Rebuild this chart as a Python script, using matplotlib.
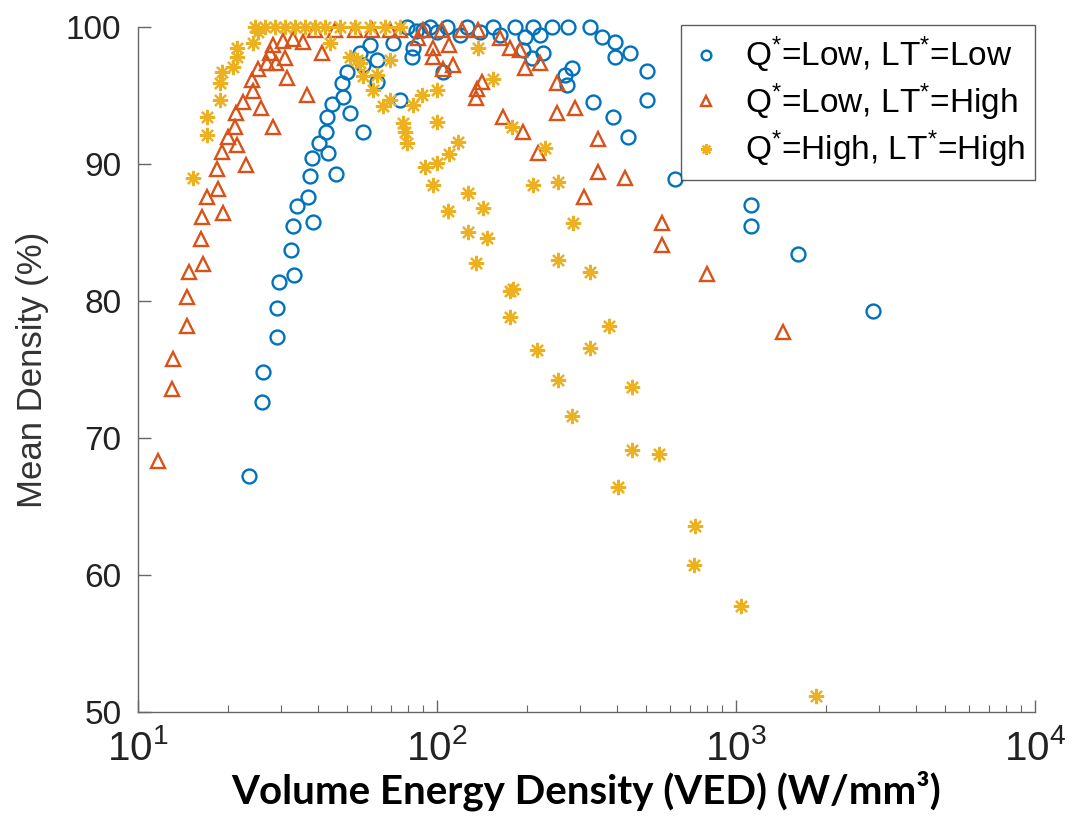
import numpy as np
import matplotlib
matplotlib.use("Agg")
import matplotlib.pyplot as plt

plt.rcParams['font.family'] = ['Liberation Sans', 'DejaVu Sans']
plt.rcParams['mathtext.fontset'] = 'custom'
plt.rcParams['mathtext.rm'] = 'Liberation Sans'
plt.rcParams['mathtext.it'] = 'Liberation Sans'

# Q*=Low, LT*=Low  (blue circles)
ved_ll = [23.5, 26.0, 26.2, 29.2, 29.2, 29.6, 33.2, 32.5, 33.0, 38.5, 34.0, 37.0,
          45.9, 37.6, 38.2, 43.2, 40.3, 42.5, 56.6, 42.9, 51.2, 44.6, 48.5, 75.2,
          48.1, 63.0, 50.0, 63.0, 56.6, 55.2, 59.7, 71.3, 82.4, 83.2,
          79.4, 94.8, 108, 126, 154, 182, 209, 243, 274, 325,
          119.5, 139, 162, 197, 221, 356, 394, 394, 442, 104.7, 194, 226, 208,
          283, 268, 272, 504, 504, 332, 388, 435, 625, 1122, 1122, 1611, 2871,
          85, 90, 100]
den_ll = [67.2, 72.6, 74.8, 77.4, 79.5, 81.4, 81.9, 83.7, 85.5, 85.8, 86.9, 87.6,
          89.3, 89.1, 90.4, 90.8, 91.5, 92.3, 92.3, 93.4, 93.7, 94.4, 94.9, 94.7,
          95.9, 96.0, 96.7, 97.6, 97.2, 98.1, 98.7, 98.8, 97.8, 98.5,
          100, 100, 100, 100, 100, 100, 100, 100, 100, 100,
          99.4, 99.6, 99.4, 99.3, 99.4, 99.3, 98.9, 97.8, 98.1, 96.7, 98.3, 98.1, 97.7,
          97.0, 96.5, 95.8, 96.8, 94.7, 94.5, 93.4, 92.0, 88.9, 87.0, 85.5, 83.4, 79.3,
          99.7, 99.8, 99.6]

# Q*=Low, LT*=High  (orange triangles)
ved_lh = [11.7, 13.0, 13.1, 14.6, 14.6, 14.8, 16.5, 16.2, 16.4, 19.2, 17.0, 18.5,
          18.4, 23.0, 19.1, 21.4, 20.0, 21.1, 28.3, 21.3, 25.8, 22.4, 24.3, 36.7,
          24.0, 31.5, 25.2, 27.0, 28.9, 31.0, 27.6, 41.2, 28.3, 30.5, 33.0, 35.6,
          39.1, 45.6, 53.2, 60.6, 69.6, 75.2, 89.8, 104, 121, 137,
          86.4, 97.0, 110, 97.0, 113, 105, 162, 175, 190, 197, 221, 141, 136, 135,
          252, 166, 252, 290, 194, 345, 218, 345, 425, 310, 566, 566, 800, 1436]
den_lh = [68.3, 73.6, 75.8, 78.2, 80.3, 82.1, 82.7, 84.5, 86.1, 86.4, 87.6, 88.2,
          89.6, 89.9, 90.9, 91.4, 92.0, 92.7, 92.7, 93.7, 94.1, 94.5, 95.3, 95.0,
          96.1, 96.3, 96.9, 97.4, 97.4, 97.7, 98.1, 98.1, 98.7, 99.0, 99.1, 98.9,
          99.8, 99.8, 99.8, 99.8, 99.8, 99.8, 99.8, 99.8, 99.8, 99.8,
          99.2, 98.5, 98.7, 97.8, 97.2, 96.9, 99.2, 98.5, 98.3, 97.0, 97.4, 96.0, 95.5, 94.8,
          95.9, 93.4, 93.7, 94.1, 92.3, 91.8, 90.8, 89.4, 89.0, 87.6, 85.7, 84.1, 82.0, 77.7]

# Q*=High, LT*=High  (yellow asterisks)
ved_hh = [15.3, 17.0, 17.0, 18.8, 18.8, 19.1, 20.8, 21.4, 21.4, 24.3, 25.2,
          24.6, 26.6, 28.7, 31.0, 33.5, 36.2, 39.1, 42.2, 47.4, 53.2, 59.7, 66.9, 75.2,
          43.9, 51.2, 55.2, 63.0, 69.6, 65.9, 69.6, 83.2, 89.1, 77.0, 78.2, 79.4, 91.2,
          56.6, 61.1, 54.0,
          137, 154, 100, 100, 117.5, 110, 178, 230, 100, 97.0, 127, 209, 254, 109, 143,
          127, 147, 285, 135, 254, 325, 180, 175, 175, 376, 216, 325, 254, 449, 283,
          449, 552, 403, 729, 724, 1040, 1853]
den_hh = [89.0, 92.1, 93.4, 94.7, 95.9, 96.7, 97.1, 97.8, 98.5, 98.8, 99.6,
          100, 100, 100, 100, 100, 100, 100, 100, 100, 100, 100, 100, 100,
          98.8, 97.8, 97.4, 96.5, 97.6, 94.2, 94.7, 94.3, 95.0, 93.0, 92.3, 91.5, 89.8,
          96.4, 95.4, 97.6,
          98.5, 96.2, 95.4, 93.1, 91.6, 90.7, 92.7, 91.2, 90.1, 88.5, 87.9, 88.5, 88.7, 86.6, 86.8,
          85.0, 84.6, 85.7, 82.8, 83.0, 82.1, 80.9, 80.7, 78.8, 78.2, 76.4, 76.6, 74.2, 73.7, 71.6,
          69.1, 68.8, 66.4, 63.6, 60.7, 57.7, 51.2]

labels = [r'Q$^{*}$=Low, LT$^{*}$=Low',
          r'Q$^{*}$=Low, LT$^{*}$=High',
          r'Q$^{*}$=High, LT$^{*}$=High']
colors = ['#0072BD', '#D95319', '#EDB120']

fig = plt.figure(figsize=(10.72, 8.30), dpi=100)
ax = fig.add_axes([0.1287, 0.1422, 0.8368, 0.8253])

ax.plot(ved_ll, den_ll, 'o', ms=10, mfc='none', mec=colors[0], mew=1.7,
        label=labels[0], clip_on=False)
ax.plot(ved_lh, den_lh, '^', ms=10, mfc='none', mec=colors[1], mew=1.7,
        label=labels[1], clip_on=False)
ax.plot(ved_hh, den_hh, marker=(8, 2, 0), ls='none', ms=11, color=colors[2],
        mew=1.6, label=labels[2], clip_on=False)

ax.set_xscale('log')
ax.set_xlim(10, 1e4)
ax.set_ylim(50, 100)
ax.set_yticks([50, 60, 70, 80, 90, 100])
ax.set_xticks([10, 100, 1000, 10000])

for s in ['top', 'right']:
    ax.spines[s].set_visible(False)
for s in ['left', 'bottom']:
    ax.spines[s].set_color('#666666')
    ax.spines[s].set_linewidth(1.0)

ax.tick_params(axis='y', direction='in', length=9, width=1, color='#666666',
               labelsize=24, pad=12, labelcolor='#222222')
ax.tick_params(axis='x', which='major', direction='in', length=9, width=1,
               color='#666666', labelsize=29, pad=12, labelcolor='#222222')
ax.tick_params(axis='x', which='minor', direction='in', length=5, width=0.8,
               color='#666666')

ax.set_ylabel('Mean Density (%)', fontsize=25, color='#333333', labelpad=12)
ax.set_xlabel('Volume Energy Density (VED) (W/mm³)', fontsize=29,
              fontweight='bold', family=['Lato', 'DejaVu Sans'], labelpad=2)

leg = ax.legend(loc='upper right', bbox_to_anchor=(1.0, 1.003), fontsize=24,
                frameon=True, fancybox=False, edgecolor='#333333',
                handlelength=0.9, handletextpad=0.7, borderpad=0.3,
                labelspacing=0.18, markerscale=0.7, borderaxespad=0.0)
leg.get_frame().set_linewidth(1.0)

fig.savefig('out.png', dpi=100)
